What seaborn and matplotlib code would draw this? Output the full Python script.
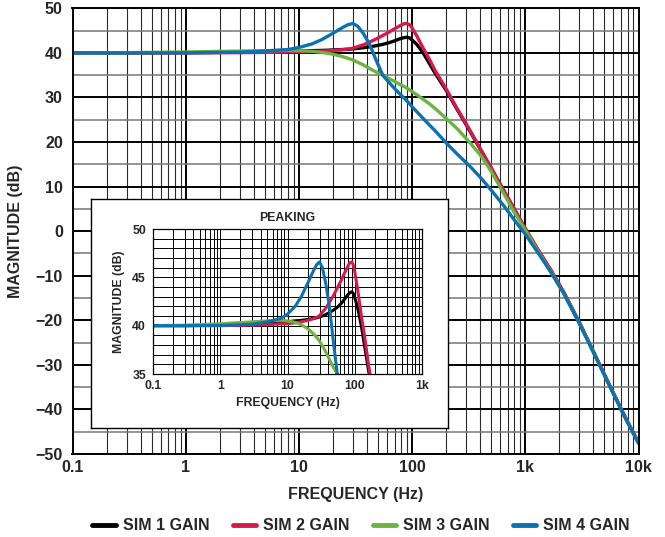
import numpy as np
import pandas as pd
import matplotlib
matplotlib.use("Agg")
import matplotlib.pyplot as plt
import matplotlib.ticker as mticker
from matplotlib.lines import Line2D
import seaborn as sns

# values
freq_hz = [0.1, 0.3, 1, 3, 5, 8, 10, 13, 16, 20, 24, 27, 30, 33, 37, 42, 48,
           55, 63, 70, 77, 84, 90, 95, 100, 110, 125, 140, 160, 200, 250, 320,
           400, 500, 650, 800, 1000, 1300, 1700, 2200, 3000, 4000, 5500, 7500, 10000]

sim1_gain = [40.0, 40.0, 40.05, 40.15, 40.25, 40.35, 40.4, 40.5, 40.55, 40.65, 40.75, 40.8,
             40.9, 41.0, 41.15, 41.35, 41.6, 41.9, 42.3, 42.7, 43.1, 43.4, 43.5, 43.35,
             42.9, 41.9, 40.0, 37.9, 35.4, 31.6, 27.3, 22.7, 18.4, 14.1, 8.9, 4.9, 0.5,
             -4.3, -9.0, -13.9, -20.5, -27.1, -34.4, -41.4, -47.5]
sim2_gain = [40.0, 40.0, 40.0, 40.05, 40.1, 40.2, 40.2, 40.3, 40.4, 40.55, 40.7, 40.85,
             41.05, 41.4, 41.8, 42.4, 43.1, 43.9, 44.7, 45.4, 46.0, 46.5, 46.6, 46.3,
             45.6, 43.8, 41.1, 38.9, 36.0, 31.9, 27.5, 22.9, 18.5, 14.2, 9.0, 5.0, 0.6,
             -4.2, -8.9, -13.8, -20.4, -27.0, -34.3, -41.3, -47.4]
sim3_gain = [40.0, 40.05, 40.2, 40.4, 40.5, 40.55, 40.5, 40.35, 40.1, 39.7, 39.2, 38.8,
             38.4, 37.9, 37.3, 36.5, 35.7, 35.0, 34.2, 33.6, 33.0, 32.5, 32.1, 31.7,
             31.3, 30.6, 29.6, 28.7, 27.5, 25.3, 23.0, 20.0, 17.1, 13.4, 8.3, 4.2, 0.2,
             -4.6, -9.3, -14.1, -20.6, -27.2, -34.5, -41.5, -47.6]
sim4_gain = [40.0, 40.0, 40.02, 40.15, 40.4, 40.75, 41.2, 42.0, 43.0, 44.4, 45.6, 46.3,
             46.6, 46.0, 44.4, 42.0, 38.4, 35.0, 33.3, 32.0, 30.9, 30.0, 29.2, 28.6,
             27.9, 26.8, 25.3, 24.0, 22.5, 19.8, 17.3, 14.7, 12.1, 9.2, 5.6, 2.5, -0.7,
             -4.9, -9.4, -14.1, -20.7, -27.2, -34.5, -41.5, -47.6]

series_names = ["SIM 1 GAIN", "SIM 2 GAIN", "SIM 3 GAIN", "SIM 4 GAIN"]
series_colors = ["#000000", "#D8194D", "#6CB33F", "#0A72B0"]

x_ticks = [0.1, 1, 10, 100, 1000, 10000]
x_labels = ["0.1", "1", "10", "100", "1k", "10k"]
y_ticks = [50, 40, 30, 20, 10, 0, -10, -20, -30, -40, -50]
y_labels = ["50", "40", "30", "20", "10", "0", "\u221210", "\u221220", "\u221230", "\u221240", "\u221250"]
inset_y_ticks = [35, 40, 45, 50]

df = pd.concat([
    pd.DataFrame({"freq": freq_hz, "db": vals, "series": name})
    for name, vals in zip(series_names, [sim1_gain, sim2_gain, sim3_gain, sim4_gain])
])
pal = dict(zip(series_names, series_colors))

sns.set_style("white")
plt.rcParams["font.family"] = ["Liberation Sans", "DejaVu Sans"]
plt.rcParams["font.weight"] = "bold"

W, H = 665, 537
fig = plt.figure(figsize=(W / 100, H / 100), dpi=100)


def frac(left, top, right, bottom):
    return [left / W, 1 - bottom / H, (right - left) / W, (bottom - top) / H]


# main plot
ax = fig.add_axes(frac(72.5, 8.3, 638.5, 454))
sns.lineplot(data=df, x="freq", y="db", hue="series", palette=pal, estimator=None,
             sort=False, linewidth=2.4, legend=False, ax=ax)
ax.set_xscale("log")
ax.set_xlim(0.1, 10000)
ax.set_ylim(-50, 50)
ax.set_xticks(x_ticks)
ax.set_xticklabels(x_labels)
ax.set_yticks(y_ticks)
ax.set_yticklabels(y_labels)
ax.xaxis.set_minor_locator(mticker.LogLocator(base=10, subs=range(2, 10), numticks=30))
ax.xaxis.set_minor_formatter(mticker.NullFormatter())
ax.yaxis.set_minor_locator(mticker.MultipleLocator(5))
ax.set_axisbelow(True)
ax.xaxis.grid(True, which="major", color="black", lw=1.4)
ax.xaxis.grid(True, which="minor", color="#2a2a2a", lw=0.8)
ax.yaxis.grid(True, which="major", color="black", lw=1.4)
ax.yaxis.grid(True, which="minor", color="#777777", lw=1.1)
ax.tick_params(which="both", length=0, labelsize=11.5)
ax.tick_params(axis="y", pad=7)
ax.tick_params(axis="x", pad=4)
for s in ax.spines.values():
    s.set_color("black")
    s.set_linewidth(1.4)
ax.set_xlabel("FREQUENCY (Hz)", fontsize=11.5, fontweight="bold", labelpad=9)
ax.set_ylabel("MAGNITUDE (dB)", fontsize=11.5, fontweight="bold", labelpad=9)

# white box behind the inset
box = fig.add_axes(frac(91, 199, 448, 428))
box.set_facecolor("white")
box.set_xticks([])
box.set_yticks([])
for s in box.spines.values():
    s.set_color("black")
    s.set_linewidth(1.0)
box.set_zorder(5)

# inset "peaking" plot
ins = fig.add_axes(frac(153, 229, 422, 374))
ins.set_zorder(6)
sns.lineplot(data=df, x="freq", y="db", hue="series", palette=pal, estimator=None,
             sort=False, linewidth=2.2, legend=False, ax=ins)
ins.set_xscale("log")
ins.set_xlim(0.1, 1000)
ins.set_ylim(35, 50)
ins.set_xticks(x_ticks[:5])
ins.set_xticklabels(x_labels[:5])
ins.set_yticks(inset_y_ticks)
ins.xaxis.set_minor_locator(mticker.LogLocator(base=10, subs=range(2, 10), numticks=30))
ins.xaxis.set_minor_formatter(mticker.NullFormatter())
ins.yaxis.set_minor_locator(mticker.MultipleLocator(1))
ins.set_axisbelow(True)
ins.grid(True, which="both", color="black", lw=0.7)
ins.tick_params(which="both", length=0, labelsize=8.8)
ins.tick_params(axis="y", pad=5)
ins.tick_params(axis="x", pad=4)
for s in ins.spines.values():
    s.set_color("black")
    s.set_linewidth(0.9)
ins.set_xlabel("FREQUENCY (Hz)", fontsize=8.8, fontweight="bold", labelpad=4)
ins.set_ylabel("MAGNITUDE (dB)", fontsize=8.8, fontweight="bold", labelpad=5)
ins.set_title("PEAKING", fontsize=8.8, fontweight="bold", pad=6)

handles = [Line2D([0], [0], color=c, lw=3.5, solid_capstyle="round") for c in series_colors]
fig.legend(handles, series_names, loc="center", bbox_to_anchor=(361 / W, 1 - 526 / H),
           ncol=4, frameon=False, fontsize=11.5, handlelength=1.45, handletextpad=0.45,
           columnspacing=1.45, borderaxespad=0)

fig.savefig("out.png", dpi=100)
